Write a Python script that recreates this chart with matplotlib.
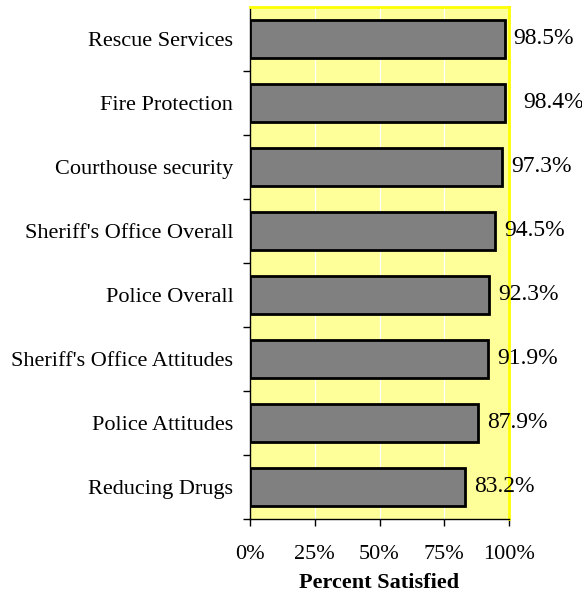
import matplotlib
matplotlib.use("Agg")
import matplotlib.pyplot as plt
import numpy as np

categories = ["Rescue Services", "Fire Protection", "Courthouse security",
              "Sheriff's Office Overall", "Police Overall",
              "Sheriff's Office Attitudes", "Police Attitudes", "Reducing Drugs"]
values = [98.5, 98.4, 97.3, 94.5, 92.3, 91.9, 87.9, 83.2]
value_labels = ["98.5%", "98.4%", "97.3%", "94.5%", "92.3%", "91.9%", "87.9%", "83.2%"]
xticks = [0, 25, 50, 75, 100]
xtick_labels = ["0%", "25%", "50%", "75%", "100%"]
xlabel = "Percent Satisfied"

plt.rcParams['font.family'] = ['Liberation Serif', 'DejaVu Serif']

fig = plt.figure(figsize=(5.82, 5.97), dpi=100)
W, H = 582, 597
ax = fig.add_axes([250 / W, 1 - 519 / H, (509 - 250) / W, (519 - 7) / H])
ax.set_facecolor('#FFFF99')

n = len(categories)
ypos = np.arange(n)[::-1]
ax.barh(ypos, values, height=0.6, color='#808080', edgecolor='black', linewidth=2, zorder=3)

ax.set_xlim(0, 100)
ax.set_ylim(-0.5, n - 0.5)

for g in [25, 50, 75]:
    ax.axvline(g, color='white', linewidth=0.9, zorder=1)

# label offsets in pixels (one label sits a bit further right in the original)
offsets = [8, 18, 9, 9, 9, 9, 9, 9]
for y, v, lab, off in zip(ypos, values, value_labels, offsets):
    ax.annotate(lab, xy=(v, y), xytext=(off, 0), textcoords='offset pixels',
                ha='left', va='center', fontsize=17, color='black', zorder=4,
                annotation_clip=False)

ax.set_xticks(xticks)
ax.set_xticklabels(xtick_labels, fontsize=16)
ax.set_yticks(np.arange(n) - 0.5, minor=False)
ax.set_yticklabels([])
ax.set_yticks(ypos, minor=True)
ax.set_yticklabels(categories, minor=True, fontsize=16)
ax.tick_params(axis='y', which='minor', length=0, pad=12)
ax.tick_params(axis='y', which='major', direction='out', length=5, width=1)
ax.tick_params(axis='x', direction='out', length=5, width=1, pad=14)
ax.set_xlabel(xlabel, fontsize=16, fontweight='bold', labelpad=6)

for s in ['top', 'right']:
    ax.spines[s].set_color('#FFFF00')
    ax.spines[s].set_linewidth(2)
ax.spines['left'].set_color('black')
ax.spines['bottom'].set_color('black')
ax.spines['left'].set_linewidth(1)
ax.spines['bottom'].set_linewidth(1)

fig.savefig('out.png', dpi=100)
